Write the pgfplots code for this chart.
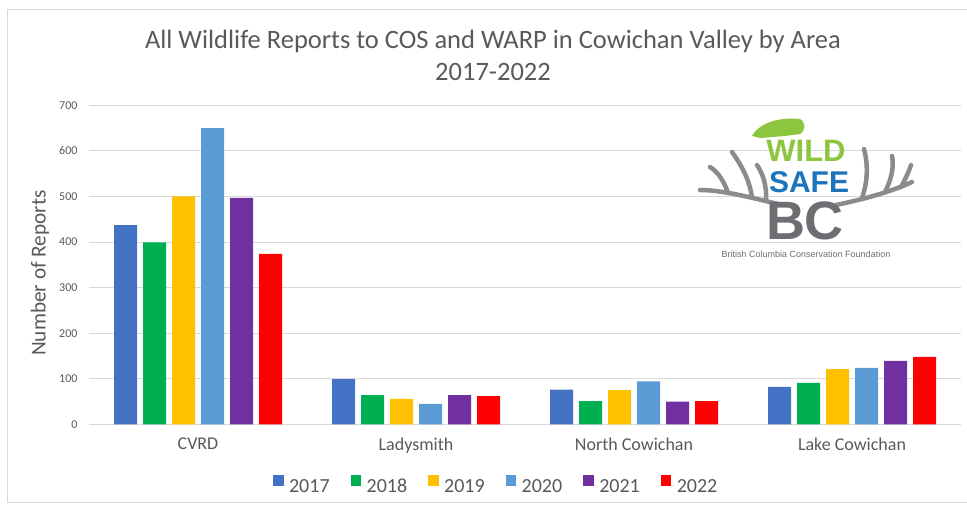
\documentclass[border=0pt]{standalone}
\usepackage{pgfplots}
\pgfplotsset{compat=1.18}
\usepackage{fontspec}
\setmainfont{Carlito}
\newfontfamily\logofont{Liberation Sans}

\definecolor{c17}{HTML}{4472C4}
\definecolor{c18}{HTML}{00B050}
\definecolor{c19}{HTML}{FFC000}
\definecolor{c20}{HTML}{5B9BD5}
\definecolor{c21}{HTML}{7030A0}
\definecolor{c22}{HTML}{FF0000}
\definecolor{txt}{HTML}{595959}
\definecolor{gridc}{HTML}{D9D9D9}
\definecolor{wsgreen}{HTML}{8CC63F}
\definecolor{wsblue}{HTML}{1C75BC}
\definecolor{wsgray}{HTML}{6D6E71}

% reports per area (CVRD, Ladysmith, North Cowichan, Lake Cowichan)
\pgfplotstableread{
x  y17 y18 y19 y20 y21 y22
0  437 399 500 650 497 374
1   99  64  56  45  64  62
2   76  51  75  94  50  51
3   82  91 121 124 139 148
}\reports

\begin{document}
\begin{tikzpicture}[x=1pt,y=1pt]
\useasboundingbox (0,0) rectangle (967,506);
\draw[gridc, line width=1pt] (7,3) rectangle (995,496);

\node[txt, font=\fontsize{26.5}{32}\selectfont, align=center] at (493,451)
  {All Wildlife Reports to COS and WARP in Cowichan Valley by Area\\2017-2022};

\begin{axis}[
  at={(89pt,81.7pt)}, anchor=south west,
  scale only axis, width=872pt, height=319pt,
  ybar=6pt, bar width=23pt,
  xmin=-0.5, xmax=3.5, ymin=0, ymax=700,
  xtick={0,1,2,3},
  xticklabels={CVRD, Ladysmith, North Cowichan, Lake Cowichan},
  ytick={0,100,...,700},
  ymajorgrids, grid style={draw=gridc, line width=0.8pt},
  axis x line*=bottom, axis y line*=left,
  y axis line style={draw=none},
  x axis line style={draw=gridc, line width=0.8pt, -},
  major tick length=0pt,
  /pgf/number format/assume math mode=true,
  tick label style={color=txt},
  yticklabel style={font=\fontsize{12}{14}\selectfont, xshift=-8pt},
  xticklabel style={font=\fontsize{18}{20}\selectfont, yshift=-10pt},
  ylabel={Number of Reports},
  ylabel style={font=\fontsize{21.3}{24}\selectfont, color=txt,
    at={(axis description cs:-0.0562,0.474)}, anchor=center},
  legend columns=6,
  legend style={draw=none, fill=none, at={(0.467,-0.193)}, anchor=center,
    font=\fontsize{20}{22}\selectfont, text=txt,
    /tikz/every even column/.append style={column sep=19pt}},
  legend image code/.code={%
    \fill[#1] (0pt,1pt) rectangle (10.5pt,11.5pt);
    \path (0pt,1pt) -- (14pt,1pt);},
]
\addplot[fill=c17, draw=none] table[x=x, y=y17] {\reports};
\addplot[fill=c18, draw=none] table[x=x, y=y18] {\reports};
\addplot[fill=c19, draw=none] table[x=x, y=y19] {\reports};
\addplot[fill=c20, draw=none] table[x=x, y=y20] {\reports};
\addplot[fill=c21, draw=none] table[x=x, y=y21] {\reports};
\addplot[fill=c22, draw=none] table[x=x, y=y22] {\reports};
\legend{2017, 2018, 2019, 2020, 2021, 2022}
\end{axis}

% WildSafeBC logo (approximate)
\begin{scope}[draw=wsgray!80, line width=4.5pt, line cap=round, line join=round]
  % left antler
  \draw (778,302) .. controls (745,310) and (720,316) .. (700,316);
  \draw (752,308) .. controls (750,325) and (742,340) .. (732,354);
  \draw (728,313) .. controls (724,325) and (718,334) .. (710,339);
  \draw (766,305) .. controls (767,320) and (763,332) .. (757,341);
  % right antler
  \draw (836,301) .. controls (870,308) and (895,316) .. (912,324);
  \draw (862,308) .. controls (868,325) and (868,342) .. (864,357);
  \draw (885,314) .. controls (892,328) and (894,340) .. (892,350);
  \draw (901,319) .. controls (906,328) and (909,335) .. (911,341);
\end{scope}
\fill[wsgreen] (752,370) .. controls (760,384) and (780,389) .. (800,387)
  .. controls (806,383) and (806,376) .. (800,372) -- (785,370) -- (760,368) -- cycle;
\begin{scope}[every node/.style={inner sep=0pt, text depth=0pt}]
\node[font=\logofont\bfseries\fontsize{31}{31}\selectfont, text=wsgreen,
  text height=22pt] at (806,355) {WILD};
\node[font=\logofont\bfseries\fontsize{30}{30}\selectfont, text=wsblue,
  text height=21pt] at (809,324) {SAFE};
\node[font=\logofont\bfseries\fontsize{54}{54}\selectfont, text=wsgray,
  text height=39pt] at (805,286) {BC};
\node[font=\logofont\fontsize{9}{10}\selectfont, text=wsgray] at (806,252)
  {British Columbia Conservation Foundation};
\end{scope}
\end{tikzpicture}
\end{document}
